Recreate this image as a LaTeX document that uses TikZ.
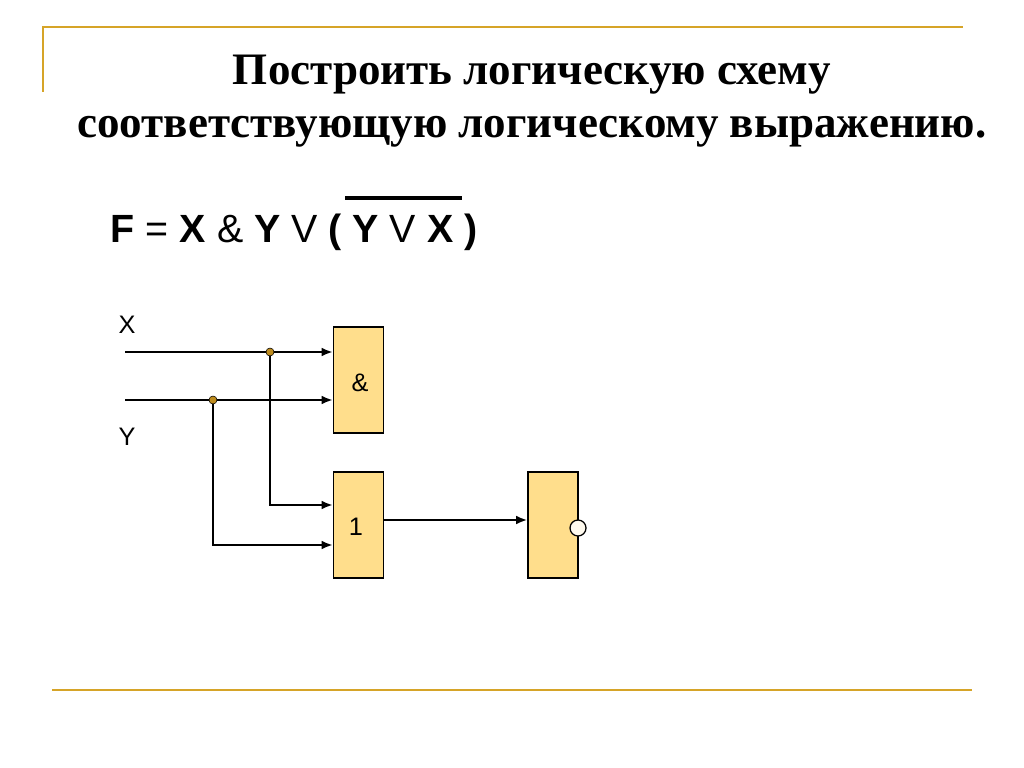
\documentclass[tikz,border=0pt]{standalone}
\usepackage{fontspec}
\setmainfont{Liberation Serif}
\setsansfont{Liberation Sans}
\usetikzlibrary{arrows.meta,positioning}
\definecolor{goldline}{RGB}{214,164,40}
\definecolor{gatefill}{RGB}{255,222,140}
\definecolor{dotfill}{RGB}{190,140,30}
\begin{document}
\begin{tikzpicture}[x=0.025cm,y=-0.025cm,
    gate/.style={rectangle, draw=black, line width=0.9pt, fill=gatefill, minimum width=1.25cm, minimum height=2.65cm, inner sep=0pt},
    wire/.style={line width=1.6pt, -{Latex[length=2.8mm,width=2.2mm]}},
    junction/.style={circle, draw=black, fill=dotfill, inner sep=0pt, minimum size=2mm},
    lbl/.style={font=\sffamily\fontsize{18}{20}\selectfont}
]
\useasboundingbox (0,0) rectangle (1024,768);

% frame lines
\draw[goldline, line width=1.5pt] (43,92) -- (43,27) -- (963,27);
\draw[goldline, line width=1.5pt] (52,690) -- (972,690);

% title
\node[font=\bfseries\fontsize{32}{38}\selectfont, align=center] (title) at (532,101)
  {Построить логическую схему\\соответствующую логическому выражению.};

% formula
\node[font=\sffamily\fontsize{28}{32}\selectfont, anchor=west] (formula) at (106,232)
  {\textbf{F} = \textbf{X} \& \textbf{Y} V \textbf{( Y} V \textbf{X )}};
\draw[line width=2.4pt] (345,198) -- (462,198);

% gates
\node[gate] (and) at (358.5,380) {};
\node[lbl] at (360,383) {\&};
\node[gate] (or) at (358.5,525) {};
\node[lbl] at (356,527) {1};
\node[gate] (notg) at (553,525) {};
\node[circle, draw=black, line width=0.9pt, fill=white!85!gatefill, inner sep=0pt, minimum size=4mm] (inv) at (578,528) {};

% inputs
\node[lbl] (x) at (127,325) {X};
\node[lbl] (y) at (127,437) {Y};
\coordinate (xin) at (125,352);
\coordinate (yin) at (125,400);
\coordinate (jx) at (270,352);
\coordinate (jy) at (213,400);

% wires
\draw[wire] (xin) -- (and.west |- xin);
\draw[wire] (yin) -- (and.west |- yin);
\draw[wire] (jx) |- (or.west |- 0,505);
\draw[wire] (jy) |- (or.west |- 0,545);
\draw[wire] (or.east |- 0,520) -- (notg.west |- 0,520);
\node[junction] at (jx) {};
\node[junction] at (jy) {};

\end{tikzpicture}
\end{document}
